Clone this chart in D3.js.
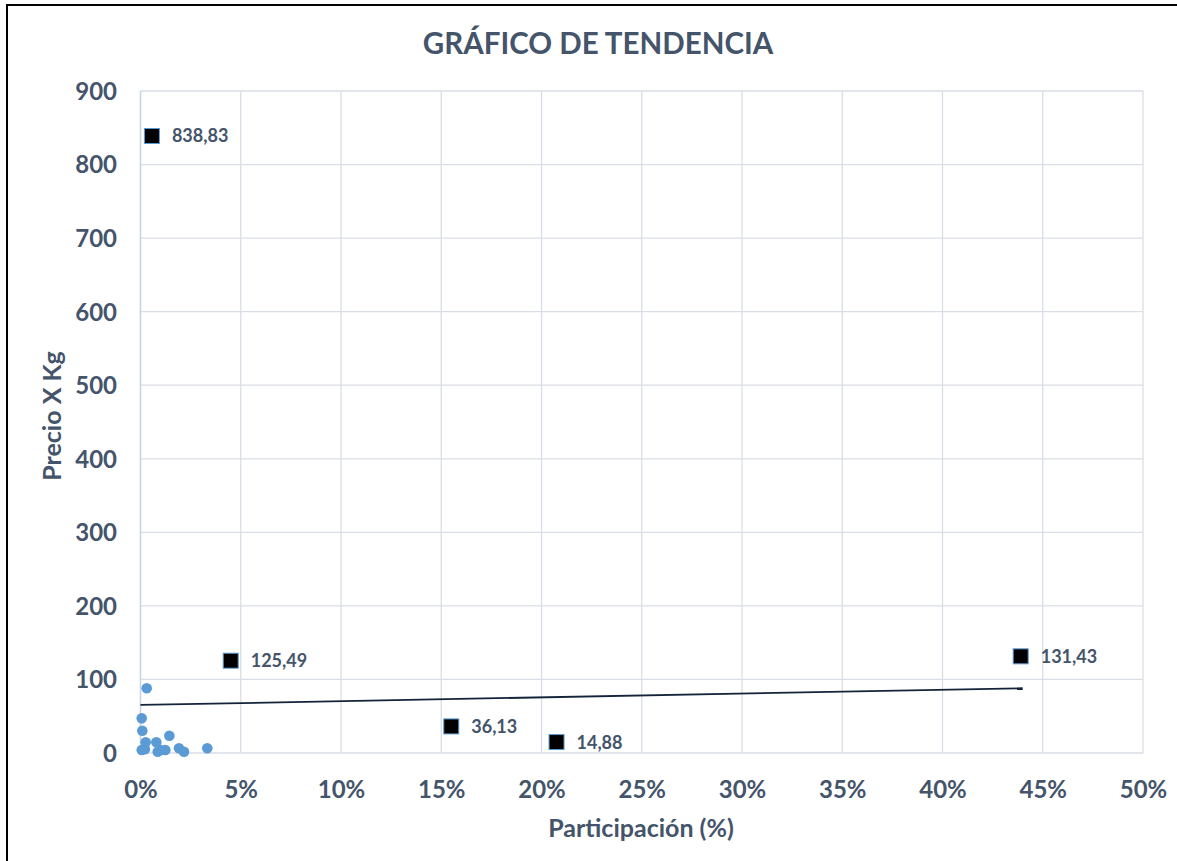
<!DOCTYPE html>
<html><head><meta charset="utf-8">
<script src="https://cdn.jsdelivr.net/npm/d3@7"></script>
<style>body{margin:0;background:#fff;} svg{display:block;}</style>
</head><body>
<svg id="c" width="1177" height="861"></svg>
<script>
// Data
const circlesX = [0.31, 0.06, 0.09, 0.26, 0.79, 1.44, 0.06, 0.22, 0.86, 1.00, 1.24, 1.92, 2.17, 3.33];
const circlesY = [88, 47.1, 30.3, 14.5, 14.5, 23.5, 4.1, 5.0, 1.8, 4.0, 4.0, 6.4, 1.8, 6.4];
const labeledX = [0.57, 4.5, 15.5, 20.75, 43.9];
const labeledY = [838.83, 125.49, 36.13, 14.88, 131.43];
const labeledText = ["838,83", "125,49", "36,13", "14,88", "131,43"];
const trendX = [0, 44];
const trendY = [65.3, 88.0];
const xTicks = [0, 5, 10, 15, 20, 25, 30, 35, 40, 45, 50];
const yTicks = [0, 100, 200, 300, 400, 500, 600, 700, 800, 900];

const svg = d3.select("#c");
const font = "Lato, 'Open Sans', sans-serif";
const txtColor = "#44546A";

// frame
svg.append("rect").attr("x", 7).attr("y", 5).attr("width", 1200).attr("height", 900)
  .attr("fill", "none").attr("stroke", "#000").attr("stroke-width", 2);

const x = d3.scaleLinear().domain([0, 50]).range([140.5, 1143]);
const y = d3.scaleLinear().domain([0, 900]).range([753, 91]);

// grid
const g = svg.append("g");
g.selectAll(".gx").data(xTicks.slice(1)).join("line")
  .attr("x1", d => x(d)).attr("x2", d => x(d)).attr("y1", y(0)).attr("y2", y(900))
  .attr("stroke", "#d9dde6").attr("stroke-width", 1.3);
g.selectAll(".gy").data(yTicks.slice(1)).join("line")
  .attr("x1", x(0)).attr("x2", x(50)).attr("y1", d => y(d)).attr("y2", d => y(d))
  .attr("stroke", "#d9dde6").attr("stroke-width", 1.3);
// axis lines
g.append("line").attr("x1", x(0)).attr("x2", x(0)).attr("y1", y(0)).attr("y2", y(900))
  .attr("stroke", "#c8d3e3").attr("stroke-width", 1.6);
g.append("line").attr("x1", x(0)).attr("x2", x(50)).attr("y1", y(0)).attr("y2", y(0))
  .attr("stroke", "#d9dde6").attr("stroke-width", 1.3);

// axes via d3
const xAxis = d3.axisBottom(x).tickValues(xTicks).tickSize(0).tickPadding(0).tickFormat(d => d + "%");
const xa = svg.append("g").attr("transform", `translate(0,${y(0) + 45})`).call(xAxis);
xa.select(".domain").remove();
xa.selectAll("text").attr("font-family", font).attr("font-weight", "bold").attr("font-size", 24)
  .attr("fill", txtColor).attr("dy", 0);

const yAxis = d3.axisLeft(y).tickValues(yTicks).tickSize(0).tickPadding(0).tickFormat(d3.format("d"));
const ya = svg.append("g").attr("transform", `translate(117,0)`).call(yAxis);
ya.select(".domain").remove();
ya.selectAll("text").attr("font-family", font).attr("font-weight", "bold").attr("font-size", 24)
  .attr("fill", txtColor).attr("dy", "0.35em");

// title
svg.append("text").attr("x", 598).attr("y", 54).attr("text-anchor", "middle")
  .attr("font-family", font).attr("font-weight", "bold").attr("font-size", 29.5)
  .attr("fill", txtColor).text("GRÁFICO DE TENDENCIA");
svg.append("text").attr("x", 641).attr("y", 837).attr("text-anchor", "middle")
  .attr("font-family", font).attr("font-weight", "bold").attr("font-size", 25)
  .attr("fill", txtColor).text("Participación (%)");
svg.append("text").attr("transform", "translate(61,416) rotate(-90)").attr("text-anchor", "middle")
  .attr("font-family", font).attr("font-weight", "bold").attr("font-size", 25)
  .attr("fill", txtColor).text("Precio X Kg");

// trendline
const tData = trendX.map((v, i) => [v, trendY[i]]);
svg.append("path").datum(tData)
  .attr("d", d3.line().x(d => x(d[0])).y(d => y(d[1])))
  .attr("stroke", "#13243a").attr("stroke-width", 1.8).attr("fill", "none");

// circles
const cData = circlesX.map((v, i) => [v, circlesY[i]]);
svg.selectAll(".pt").data(cData).join("circle")
  .attr("cx", d => x(d[0])).attr("cy", d => y(d[1])).attr("r", 5.3)
  .attr("fill", "#5b9bd5");

// labeled squares
const lData = labeledX.map((v, i) => ({x: v, y: labeledY[i], t: labeledText[i]}));
const s = 15;
svg.selectAll(".sq").data(lData).join("rect")
  .attr("x", d => x(d.x) - s / 2).attr("y", d => y(d.y) - s / 2)
  .attr("width", s).attr("height", s).attr("fill", "#000")
  .attr("stroke", "#5b9bd5").attr("stroke-width", 1);
svg.selectAll(".lb").data(lData).join("text")
  .attr("x", d => x(d.x) + 20).attr("y", d => y(d.y) + 6.5)
  .attr("font-family", font).attr("font-weight", "bold").attr("font-size", 18)
  .attr("fill", txtColor).text(d => d.t);
</script>
</body></html>
